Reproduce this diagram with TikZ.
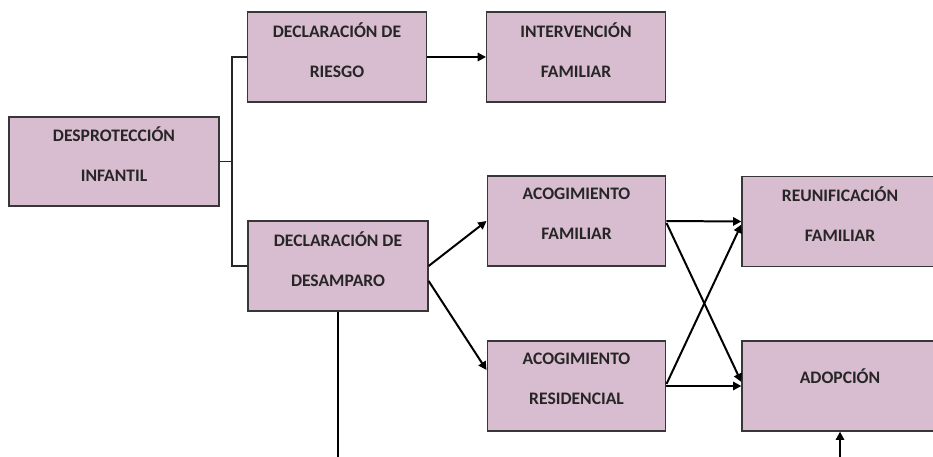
\documentclass[tikz,border=0pt]{standalone}
\usepackage{fontspec}
\setmainfont{Carlito}
\usetikzlibrary{arrows.meta,calc}
\definecolor{cajarosa}{RGB}{216,188,207}
\definecolor{borde}{RGB}{55,55,55}
\tikzset{
  caja/.style={draw=borde, line width=1.1pt, fill=cajarosa, minimum width=5.36cm,
    minimum height=2.7cm, inner sep=0pt, align=center, text=black!85, text depth=0.42cm,
    font=\bfseries\fontsize{15}{34}\selectfont},
  rama/.style={draw=black!85, line width=0.9pt},
  linea/.style={draw=black, line width=1.7pt},
  flecha/.style={linea, -{Triangle[length=2.5mm, width=2.5mm]}}
}
\begin{document}
\begin{tikzpicture}[x=0.03cm, y=-0.03cm]
\clip (0,0) rectangle (933,457);
% cajas
\node[caja, minimum width=6.3cm, minimum height=2.67cm] (desp) at (114,161.5) {DESPROTECCIÓN\\INFANTIL};
\node[caja] (riesgo) at (337,57) {DECLARACIÓN DE\\RIESGO};
\node[caja] (interv) at (576,57) {INTERVENCIÓN\\FAMILIAR};
\node[caja, minimum width=5.4cm] (desamp) at (338,266) {DECLARACIÓN DE\\DESAMPARO};
\node[caja] (acofam) at (576.5,221) {ACOGIMIENTO\\FAMILIAR};
\node[caja] (acores) at (576.5,386) {ACOGIMIENTO\\RESIDENCIAL};
\node[caja, minimum width=5.88cm] (reunif) at (840,221.5) {REUNIFICACIÓN\\FAMILIAR};
\node[caja, minimum width=5.88cm, text depth=0.6cm] (adop) at (840,386) {ADOPCIÓN};
% ramas
\coordinate (tronco) at (232,161.5);
\draw[rama] (desp.east) -- (tronco);
\draw[rama] (riesgo.west) -| (tronco) |- (desamp.west);
% flechas
\draw[flecha] (riesgo.east) -- (interv.west);
\draw[flecha] (desamp.east) -- (acofam.west);
\draw[flecha] ($(desamp.east)+(0,15)$) -- ($(acores.west)+(0,-16)$);
\draw[flecha] (acofam.east) -- (reunif.west);
\draw[flecha] ($(acofam.east)+(0,2)$) -- ($(adop.west)+(0,-4)$);
\draw[flecha] ($(acores.east)+(0,-2)$) -- ($(reunif.west)+(0,3)$);
\draw[flecha] (acores.east) -- (adop.west);
\coordinate (pieizq) at (338,470);
\coordinate (pieder) at (840,470);
\draw[linea] (desamp.south) -- (pieizq);
\draw[flecha] (pieder) -- (adop.south);
\end{tikzpicture}
\end{document}
